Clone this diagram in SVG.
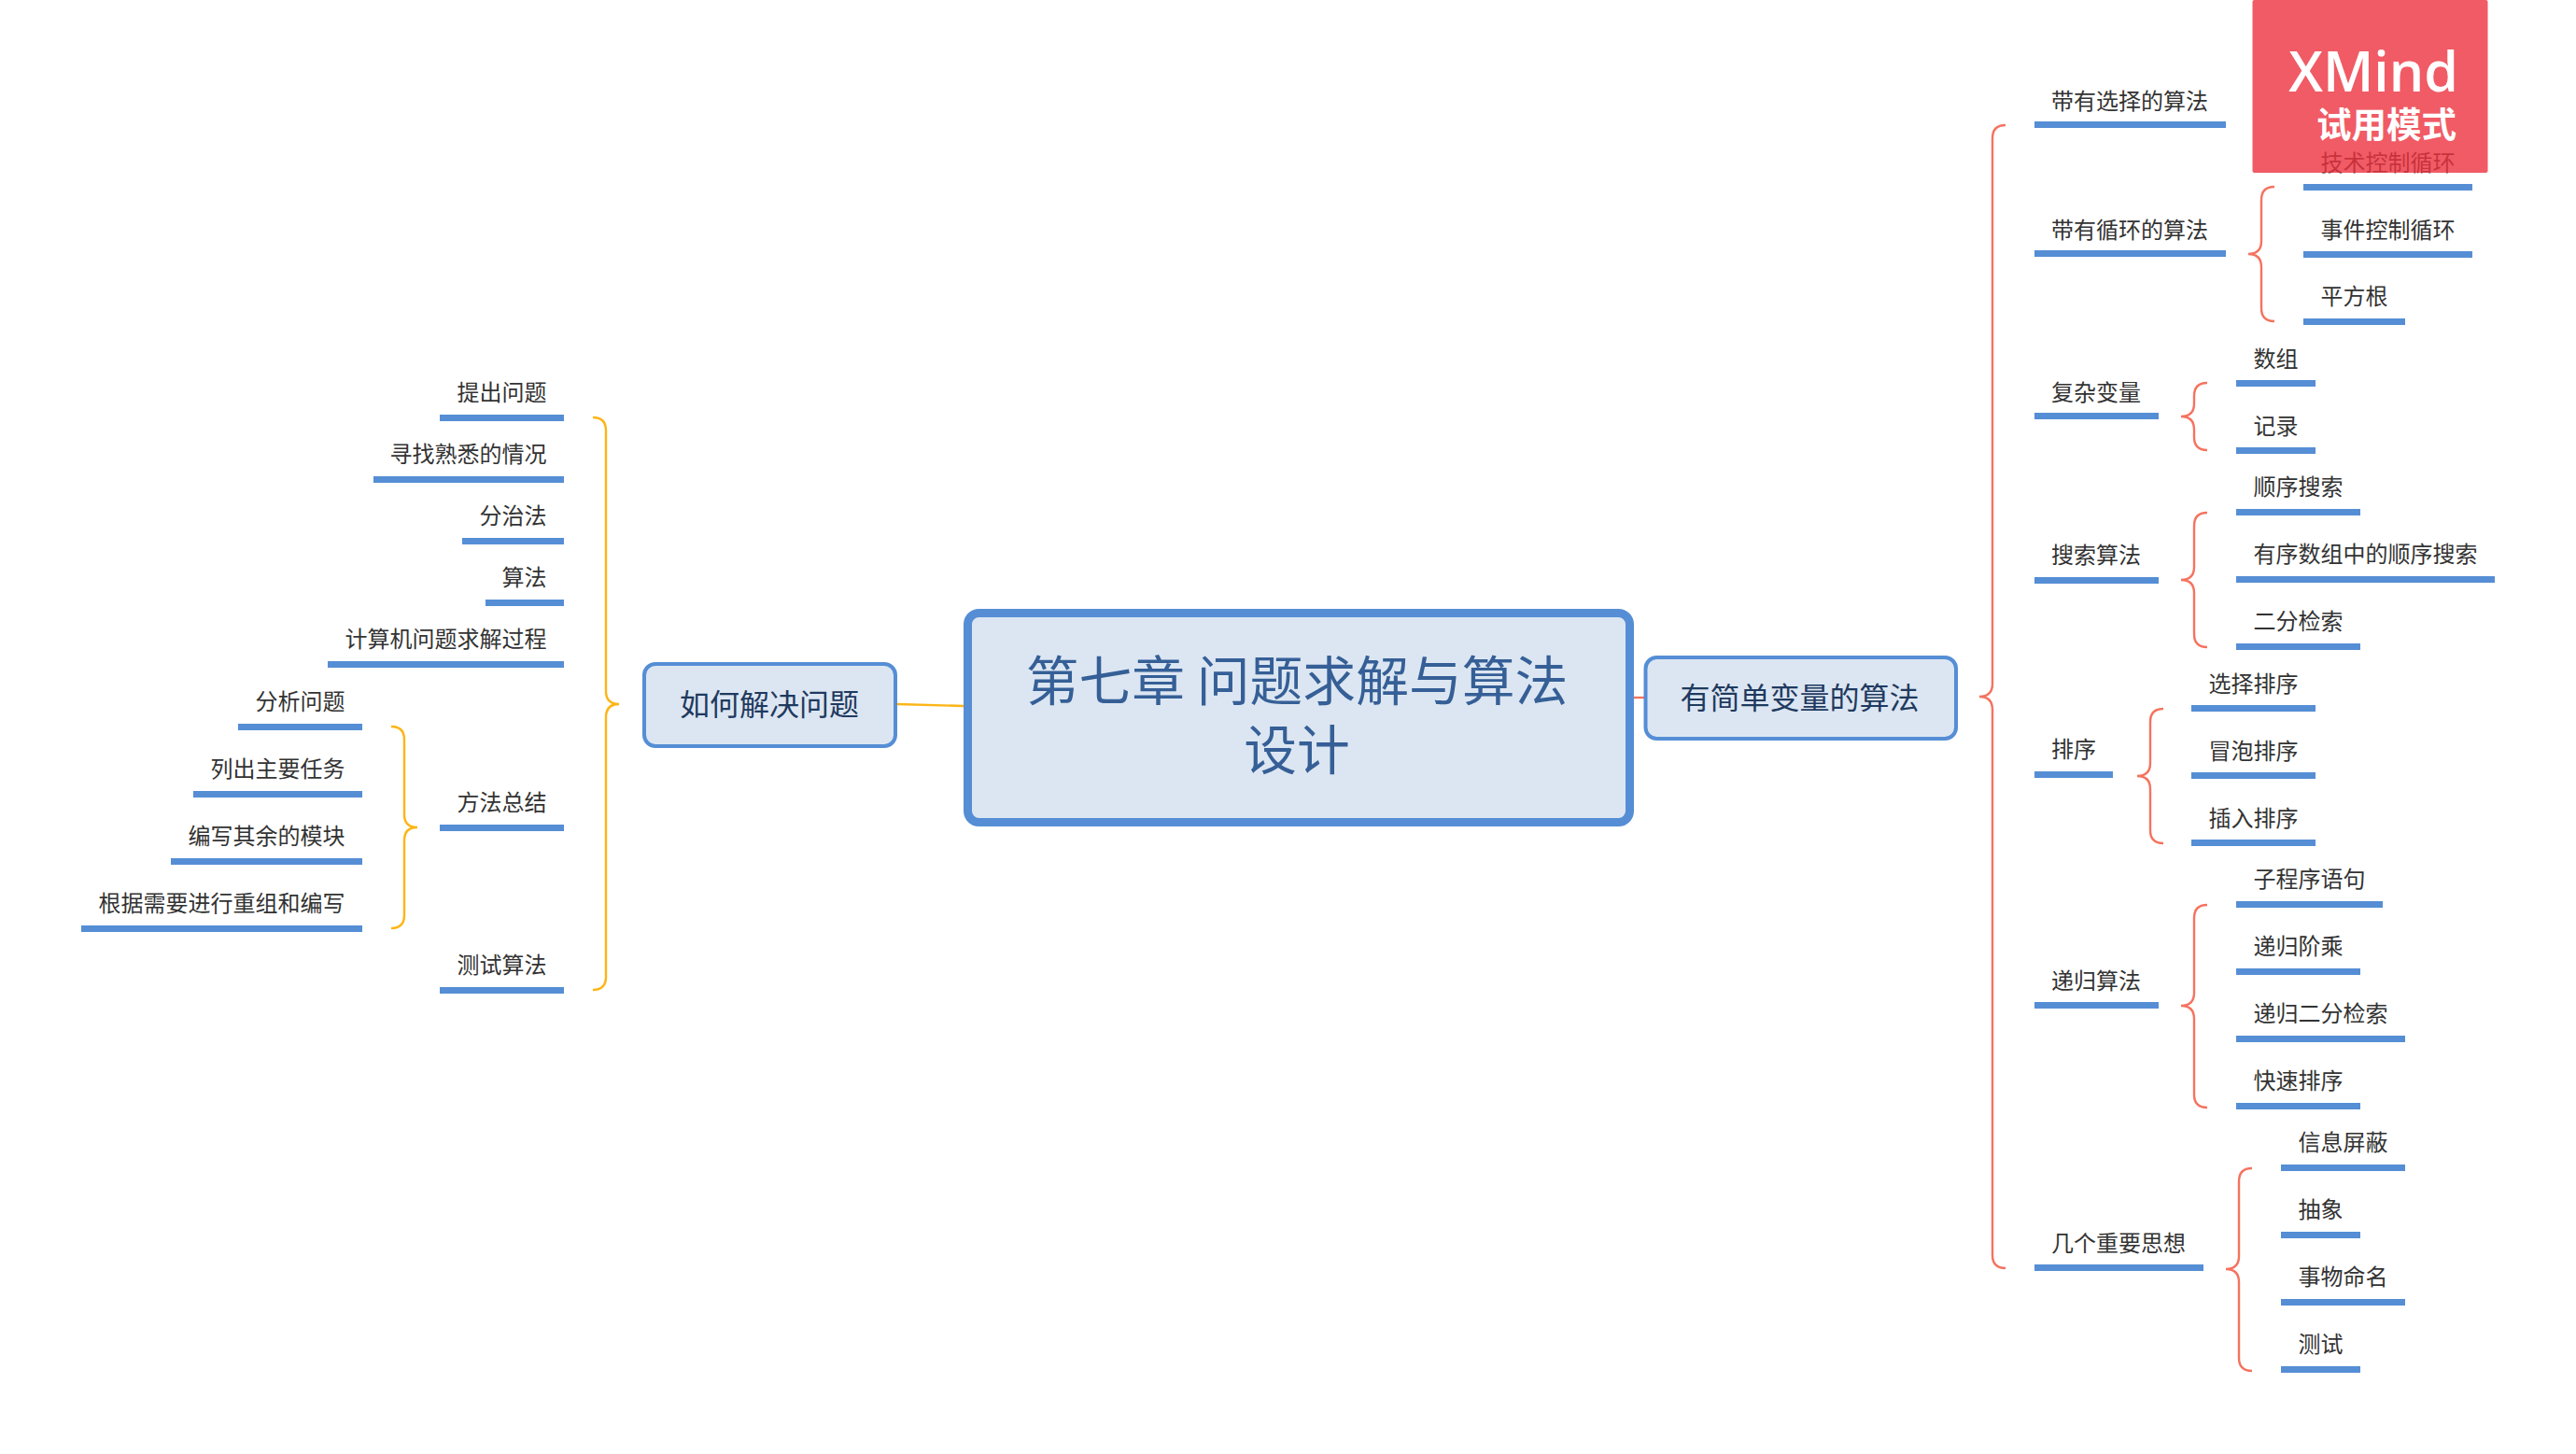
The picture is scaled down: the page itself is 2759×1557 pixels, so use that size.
<svg xmlns="http://www.w3.org/2000/svg" width="2759" height="1557" viewBox="0 0 2759 1557">
<style>
text{font-family:"Noto Sans CJK SC","Noto Sans",sans-serif;}
.t{font-size:24px;fill:#333333;}
.e{text-anchor:end;}
.b{fill:#558ED5;}
.node{fill:#DCE6F2;stroke:#558ED5;}
.br{fill:none;stroke-width:2.4;}
.r{stroke:#F5735F;}
.o{stroke:#FDB515;}
</style>
<rect width="2759" height="1557" fill="#ffffff"/>
<g id="connectors">
<path class="br o" d="M961 754L1032 756"/>
<path class="br r" d="M1750 747H1761"/>
<path class="br r" d="M2148 134C2139 134 2134 139 2134 148V732C2134 741 2129 746 2120 746C2129 746 2134 751 2134 760V1344C2134 1353 2139 1358 2148 1358"/>
<path class="br r" d="M2436 200C2427 200 2422 205 2422 214V258C2422 267 2417 272 2408 272C2417 272 2422 277 2422 286V330C2422 339 2427 344 2436 344"/>
<path class="br r" d="M2364 410C2355 410 2350 415 2350 424V432C2350 441 2345 446 2336 446C2345 446 2350 451 2350 460V468C2350 477 2355 482 2364 482"/>
<path class="br r" d="M2364 549C2355 549 2350 554 2350 563V607C2350 616 2345 621 2336 621C2345 621 2350 626 2350 635V679C2350 688 2355 693 2364 693"/>
<path class="br r" d="M2317 759C2308 759 2303 764 2303 773V817C2303 826 2298 831 2289 831C2298 831 2303 836 2303 845V889C2303 898 2308 903 2317 903"/>
<path class="br r" d="M2364 969C2355 969 2350 974 2350 983V1063C2350 1072 2345 1077 2336 1077C2345 1077 2350 1082 2350 1091V1172C2350 1181 2355 1186 2364 1186"/>
<path class="br r" d="M2412 1251C2403 1251 2398 1256 2398 1265V1345C2398 1354 2393 1359 2384 1359C2393 1359 2398 1364 2398 1373V1454C2398 1463 2403 1468 2412 1468"/>
<path class="br o" d="M635 447C644 447 649 452 649 461V740C649 749 654 754 663 754C654 754 649 759 649 768V1046C649 1055 644 1060 635 1060"/>
<path class="br o" d="M419 778C428 778 433 783 433 792V872C433 881 438 886 447 886C438 886 433 891 433 900V980C433 989 428 994 419 994"/>
</g>
<g id="root"><rect class="node" x="1036.5" y="656.500" width="709" height="224" rx="12" stroke-width="9"/><text x="1389" y="750" font-size="56.800" fill="#355F96" text-anchor="middle">第七章 问题求解与算法</text><text x="1389" y="824" font-size="56.800" fill="#355F96" text-anchor="middle">设计</text></g>
<g id="topic-left"><rect class="node" x="690" y="711" width="269" height="88" rx="12" stroke-width="4"/><text x="824" y="766" font-size="32" fill="#1F3A60" text-anchor="middle">如何解决问题</text></g>
<g id="topic-right"><rect class="node" x="1762.500" y="704" width="332.500" height="87" rx="12" stroke-width="4"/><text x="1927.500" y="759" font-size="32" fill="#1F3A60" text-anchor="middle">有简单变量的算法</text></g>
<g id="n1"><text class="t e" x="585.500" y="429">提出问题</text><rect class="b" x="471" y="444" width="133" height="7"/></g>
<g id="n2"><text class="t e" x="585.500" y="495">寻找熟悉的情况</text><rect class="b" x="400" y="510" width="204" height="7"/></g>
<g id="n3"><text class="t e" x="585.500" y="561">分治法</text><rect class="b" x="495" y="576" width="109" height="7"/></g>
<g id="n4"><text class="t e" x="585.500" y="627">算法</text><rect class="b" x="520" y="642" width="84" height="7"/></g>
<g id="n5"><text class="t e" x="585.500" y="693">计算机问题求解过程</text><rect class="b" x="351" y="708" width="253" height="7"/></g>
<g id="n6"><text class="t e" x="369.500" y="760">分析问题</text><rect class="b" x="255" y="775" width="133" height="7"/></g>
<g id="n7"><text class="t e" x="369.500" y="832">列出主要任务</text><rect class="b" x="207" y="847" width="181" height="7"/></g>
<g id="n8"><text class="t e" x="369.500" y="904">编写其余的模块</text><rect class="b" x="183" y="919" width="205" height="7"/></g>
<g id="n9"><text class="t e" x="369.500" y="976">根据需要进行重组和编写</text><rect class="b" x="87" y="991" width="301" height="7"/></g>
<g id="n10"><text class="t e" x="585.500" y="868">方法总结</text><rect class="b" x="471" y="883" width="133" height="7"/></g>
<g id="n11"><text class="t e" x="585.500" y="1042">测试算法</text><rect class="b" x="471" y="1057" width="133" height="7"/></g>
<g id="r1"><text class="t" x="2197" y="117">带有选择的算法</text><rect class="b" x="2179" y="130" width="205" height="7"/></g>
<g id="r2"><text class="t" x="2197" y="255">带有循环的算法</text><rect class="b" x="2179" y="268" width="205" height="7"/></g>
<g id="r3"><text class="t" x="2197" y="429">复杂变量</text><rect class="b" x="2179" y="442" width="133" height="7"/></g>
<g id="r4"><text class="t" x="2197" y="603">搜索算法</text><rect class="b" x="2179" y="618" width="133" height="7"/></g>
<g id="r5"><text class="t" x="2197" y="811">排序</text><rect class="b" x="2179" y="826" width="84" height="7"/></g>
<g id="r6"><text class="t" x="2197" y="1059">递归算法</text><rect class="b" x="2179" y="1073" width="133" height="7"/></g>
<g id="r7"><text class="t" x="2197" y="1340">几个重要思想</text><rect class="b" x="2179" y="1354" width="181" height="7"/></g>
<g id="c1"><text class="t" x="2485.500" y="183">技术控制循环</text><rect class="b" x="2467" y="197" width="181" height="7"/></g>
<g id="c2"><text class="t" x="2485.500" y="255">事件控制循环</text><rect class="b" x="2467" y="269" width="181" height="7"/></g>
<g id="c3"><text class="t" x="2485.500" y="326">平方根</text><rect class="b" x="2467" y="341" width="109" height="7"/></g>
<g id="c4"><text class="t" x="2413.500" y="393">数组</text><rect class="b" x="2395" y="407" width="85" height="7"/></g>
<g id="c5"><text class="t" x="2413.500" y="465">记录</text><rect class="b" x="2395" y="479" width="85" height="7"/></g>
<g id="c6"><text class="t" x="2413.500" y="530">顺序搜索</text><rect class="b" x="2395" y="545" width="133" height="7"/></g>
<g id="c7"><text class="t" x="2413.500" y="602">有序数组中的顺序搜索</text><rect class="b" x="2395" y="617" width="277" height="7"/></g>
<g id="c8"><text class="t" x="2413.500" y="674">二分检索</text><rect class="b" x="2395" y="689" width="133" height="7"/></g>
<g id="c9"><text class="t" x="2365.500" y="741">选择排序</text><rect class="b" x="2347" y="755" width="133" height="7"/></g>
<g id="c10"><text class="t" x="2365.500" y="813">冒泡排序</text><rect class="b" x="2347" y="827" width="133" height="7"/></g>
<g id="c11"><text class="t" x="2365.500" y="885">插入排序</text><rect class="b" x="2347" y="899" width="133" height="7"/></g>
<g id="c12"><text class="t" x="2413.500" y="950">子程序语句</text><rect class="b" x="2395" y="965" width="157" height="7"/></g>
<g id="c13"><text class="t" x="2413.500" y="1022">递归阶乘</text><rect class="b" x="2395" y="1037" width="133" height="7"/></g>
<g id="c14"><text class="t" x="2413.500" y="1094">递归二分检索</text><rect class="b" x="2395" y="1109" width="181" height="7"/></g>
<g id="c15"><text class="t" x="2413.500" y="1166">快速排序</text><rect class="b" x="2395" y="1181" width="133" height="7"/></g>
<g id="c16"><text class="t" x="2461.500" y="1232">信息屏蔽</text><rect class="b" x="2443" y="1247" width="133" height="7"/></g>
<g id="c17"><text class="t" x="2461.500" y="1304">抽象</text><rect class="b" x="2443" y="1319" width="85" height="7"/></g>
<g id="c18"><text class="t" x="2461.500" y="1376">事物命名</text><rect class="b" x="2443" y="1391" width="133" height="7"/></g>
<g id="c19"><text class="t" x="2461.500" y="1448">测试</text><rect class="b" x="2443" y="1463" width="85" height="7"/></g>
<g id="watermark"><rect x="2412.500" y="0" width="252" height="185" rx="2" fill="#EC323E" fill-opacity="0.8"/><text x="2633" y="98" font-size="59" font-weight="600" fill="#ffffff" text-anchor="end" style="font-family:'Open Sans','Noto Sans',sans-serif">XMind</text><text x="2631" y="147" font-size="37.500" font-weight="700" fill="#ffffff" text-anchor="end">试用模式</text></g>
</svg>
